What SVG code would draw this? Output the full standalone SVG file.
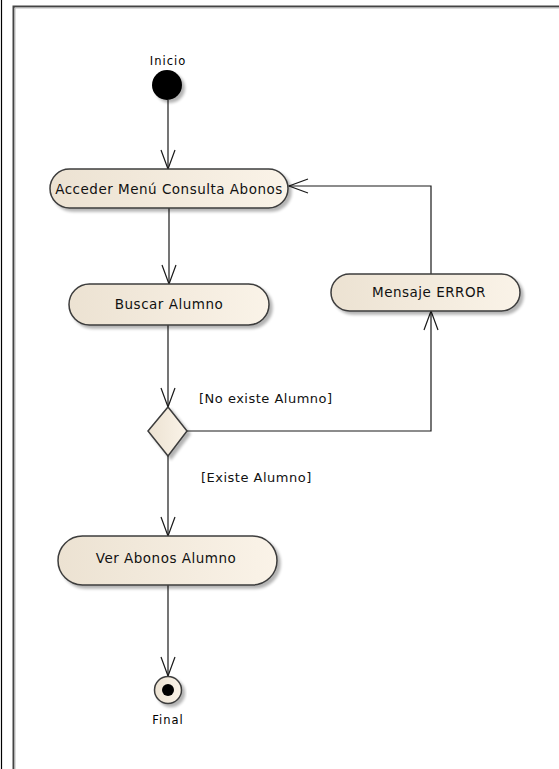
<svg xmlns="http://www.w3.org/2000/svg" width="559" height="769" viewBox="0 0 559 769">
  <style>
    .node { fill: url(#nodeFill); stroke: #3c3c3c; stroke-width: 1.5; filter: url(#shadow); }
    .lbl { font-family: "DejaVu Sans", Verdana, sans-serif; font-size: 13.5px; letter-spacing: 0.5px; fill: #111; text-anchor: middle; }
    .guard { font-family: "DejaVu Sans", Verdana, sans-serif; font-size: 13px; letter-spacing: 0.5px; fill: #111; }
    .small { font-family: "DejaVu Sans", Verdana, sans-serif; font-size: 11.5px; letter-spacing: 1px; fill: #000; text-anchor: middle; }
    .edge { fill: none; stroke: #1a1a1a; stroke-width: 1.2; marker-end: url(#open); }
  </style>
  <defs>
    <linearGradient id="nodeFill" x1="0" y1="0" x2="1" y2="0">
      <stop offset="0" stop-color="#ece2d2"/>
      <stop offset="1" stop-color="#faf3e8"/>
    </linearGradient>
    <filter id="shadow" x="-10%" y="-20%" width="130%" height="150%">
      <feGaussianBlur in="SourceAlpha" stdDeviation="1.5"/>
      <feOffset dx="3" dy="3" result="b"/>
      <feComponentTransfer><feFuncA type="linear" slope="0.3"/></feComponentTransfer>
      <feMerge><feMergeNode/><feMergeNode in="SourceGraphic"/></feMerge>
    </filter>
    <marker id="open" markerUnits="userSpaceOnUse" markerWidth="24" markerHeight="20" refX="20" refY="8" orient="auto" viewBox="0 0 24 16">
      <path d="M1,1 L20,8 L1,15" fill="none" stroke="#1a1a1a" stroke-width="1.2"/>
    </marker>
  </defs>

  <!-- frame -->
  <rect width="559" height="769" fill="#ffffff"/>
  <line x1="1.5" y1="0" x2="1.5" y2="769" stroke="#000" stroke-width="1.2"/>
  <path d="M13.5,769 V6.5 H559" fill="none" stroke="#444444" stroke-width="2"/>
  <path d="M15,769 V8 H559" fill="none" stroke="#bbbbbb" stroke-width="1"/>

  <!-- connectors -->
  <g id="connectors">
    <path class="edge" d="M168,100 V169"/>
    <path class="edge" d="M169,208 V284"/>
    <path class="edge" d="M168,325 V407"/>
    <path class="edge" d="M187,431 H431 V311"/>
    <path class="edge" d="M431,274 V186 H289"/>
    <path class="edge" d="M168,456 V536"/>
    <path class="edge" d="M168,585 V676"/>
  </g>

  <g id="inicio">
    <circle cx="167" cy="85" r="15" fill="#000" filter="url(#shadow)"/>
    <text class="small" x="168" y="65">Inicio</text>
  </g>

  <g id="acceder">
    <rect class="node" x="50" y="169" width="238" height="39" rx="19.5"/>
    <text class="lbl" x="169" y="193.5" letter-spacing="0.6">Acceder Menú Consulta Abonos</text>
  </g>

  <g id="buscar">
    <rect class="node" x="69" y="284" width="200" height="41" rx="20.5"/>
    <text class="lbl" x="169" y="309">Buscar Alumno</text>
  </g>

  <g id="mensaje">
    <rect class="node" x="331" y="274" width="189" height="37" rx="18.5"/>
    <text class="lbl" x="429" y="297">Mensaje ERROR</text>
  </g>

  <g id="decision">
    <polygon class="node" points="148,431 168,407 187,431 168,456"/>
    <text class="guard" x="199" y="403">[No existe Alumno]</text>
    <text class="guard" x="201" y="482">[Existe Alumno]</text>
  </g>

  <g id="ver">
    <rect class="node" x="58" y="536" width="219" height="49" rx="24.5"/>
    <text class="lbl" x="166" y="563">Ver Abonos Alumno</text>
  </g>

  <g id="final">
    <circle cx="168" cy="690" r="13.5" fill="url(#nodeFill)" stroke="#3c3c3c" stroke-width="1.5" filter="url(#shadow)"/>
    <circle cx="168" cy="690" r="6" fill="#000"/>
    <text class="small" x="168" y="724" font-size="12px" letter-spacing="1.5">Final</text>
  </g>
</svg>
